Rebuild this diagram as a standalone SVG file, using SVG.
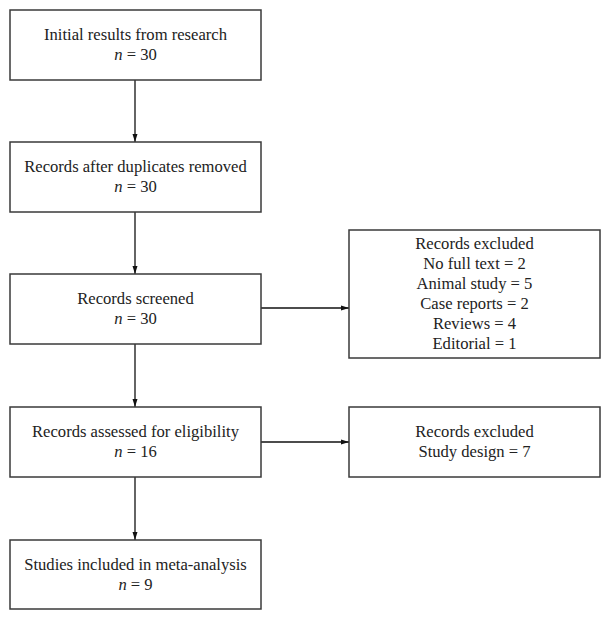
<svg xmlns="http://www.w3.org/2000/svg" width="611" height="619" viewBox="0 0 611 619">
<style>
.box{fill:#fff;stroke:#3a3a3a;stroke-width:1.5}
.t{font-family:"Liberation Serif","Times New Roman",serif;font-size:16.6px;fill:#222;text-anchor:middle}
.i{font-style:italic}
.c{stroke:#111;stroke-width:1.3;fill:none;marker-end:url(#ah)}
</style>
<defs>
<marker id="ah" markerWidth="8" markerHeight="6" refX="8" refY="3" orient="auto" markerUnits="userSpaceOnUse">
<path d="M0,0.5 L8,3 L0,5.5 Z" fill="#111"/>
</marker>
</defs>
<rect width="611" height="619" fill="#fff"/>
<g id="connectors">
<line class="c" x1="135" y1="80" x2="135" y2="142"/>
<line class="c" x1="135" y1="212" x2="135" y2="274"/>
<line class="c" x1="135" y1="344" x2="135" y2="407"/>
<line class="c" x1="135" y1="477" x2="135" y2="540"/>
<line class="c" x1="261" y1="308" x2="349" y2="308"/>
<line class="c" x1="261" y1="442" x2="349" y2="442"/>
</g>
<g id="initial">
<rect class="box" x="10" y="10" width="251" height="70"/>
<text class="t" x="135.5" y="40">Initial results from research</text>
<text class="t" x="135.5" y="60"><tspan class="i">n</tspan> = 30</text>
</g>
<g id="dedup">
<rect class="box" x="10" y="142" width="251" height="70"/>
<text class="t" x="135.5" y="172">Records after duplicates removed</text>
<text class="t" x="135.5" y="192"><tspan class="i">n</tspan> = 30</text>
</g>
<g id="screened">
<rect class="box" x="10" y="274" width="251" height="70"/>
<text class="t" x="135.5" y="304">Records screened</text>
<text class="t" x="135.5" y="324"><tspan class="i">n</tspan> = 30</text>
</g>
<g id="eligibility">
<rect class="box" x="10" y="407" width="251" height="70"/>
<text class="t" x="135.5" y="437">Records assessed for eligibility</text>
<text class="t" x="135.5" y="457"><tspan class="i">n</tspan> = 16</text>
</g>
<g id="included">
<rect class="box" x="10" y="540" width="251" height="69"/>
<text class="t" x="135.5" y="570">Studies included in meta-analysis</text>
<text class="t" x="135.5" y="590"><tspan class="i">n</tspan> = 9</text>
</g>
<g id="excluded1">
<rect class="box" x="349" y="230" width="251" height="128"/>
<text class="t" x="474.5" y="249">Records excluded</text>
<text class="t" x="474.5" y="269">No full text = 2</text>
<text class="t" x="474.5" y="289">Animal study = 5</text>
<text class="t" x="474.5" y="309">Case reports = 2</text>
<text class="t" x="474.5" y="329">Reviews = 4</text>
<text class="t" x="474.5" y="349">Editorial = 1</text>
</g>
<g id="excluded2">
<rect class="box" x="349" y="407" width="251" height="70"/>
<text class="t" x="474.5" y="437">Records excluded</text>
<text class="t" x="474.5" y="457">Study design = 7</text>
</g>
</svg>
